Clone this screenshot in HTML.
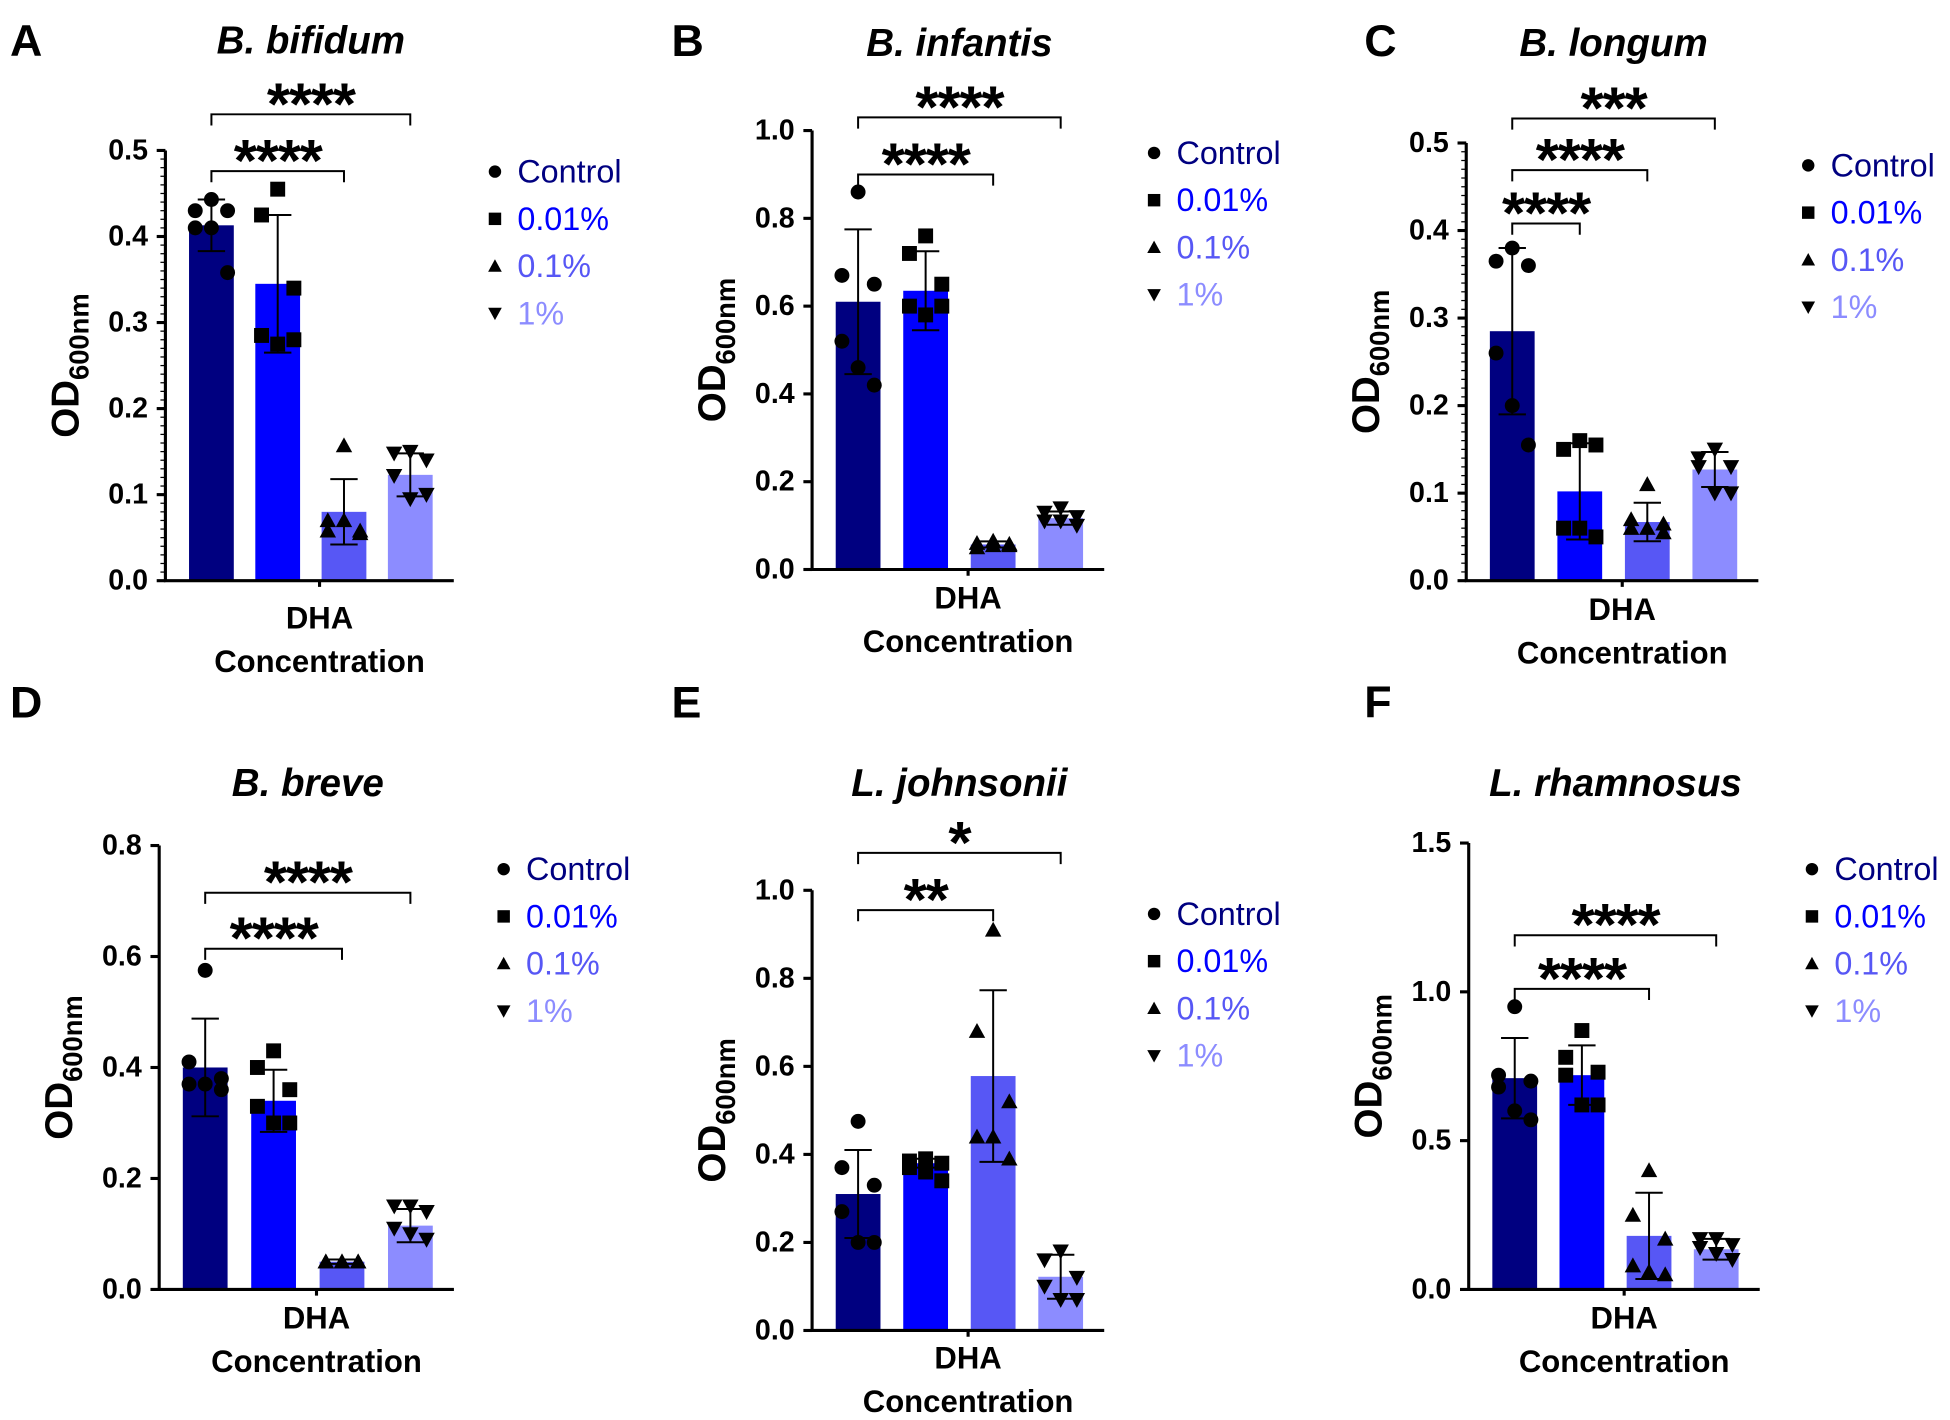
<!DOCTYPE html>
<html><head><meta charset="utf-8"><style>
html,body{margin:0;padding:0;background:#fff;}
svg{display:block;font-family:"Liberation Sans",Arial,sans-serif;}
</style></head><body>
<svg id="fig" width="1950" height="1420" viewBox="0 0 1568 1142" preserveAspectRatio="none" xmlns="http://www.w3.org/2000/svg"></svg>
<script>
const groups = ["Control","0.01%","0.1%","1%"];
const colors = ["#000080","#0000ff","#5757f5","#8c8cff"];
const titles = ["B. bifidum","B. infantis","B. longum","B. breve","L. johnsonii","L. rhamnosus"];
const letters = ["A","B","C","D","E","F"];
const meansA = [0.413,0.345,0.08,0.123];
const meansB = [0.61,0.635,0.057,0.117];
const meansC = [0.285,0.102,0.067,0.127];
const meansD = [0.4,0.34,0.05,0.115];
const meansE = [0.31,0.38,0.578,0.122];
const meansF = [0.71,0.72,0.18,0.135];
const sdA = [0.03,0.08,0.038,0.025];
const sdB = [0.165,0.09,0.007,0.015];
const sdC = [0.095,0.055,0.022,0.02];
const sdD = [0.088,0.056,0.004,0.03];
const sdE = [0.1,0.01,0.195,0.05];
const sdF = [0.135,0.1,0.145,0.035];
const ptsA = [[0.443,0.43,0.43,0.41,0.41,0.358],[0.455,0.425,0.34,0.285,0.275,0.28],[0.157,0.07,0.058,0.058,0.07,0.055],[0.15,0.148,0.14,0.122,0.095,0.1]];
const ptsB = [[0.86,0.67,0.65,0.52,0.46,0.42],[0.76,0.72,0.65,0.6,0.58,0.6],[0.065,0.06,0.055,0.05,0.055,0.058],[0.14,0.13,0.12,0.11,0.11,0.1]];
const ptsC = [[0.38,0.365,0.36,0.26,0.2,0.155],[0.16,0.15,0.155,0.06,0.06,0.05],[0.11,0.07,0.065,0.06,0.06,0.055],[0.15,0.14,0.13,0.13,0.1,0.1]];
const ptsD = [[0.575,0.41,0.38,0.37,0.37,0.36],[0.43,0.4,0.36,0.33,0.3,0.3],[0.05,0.05,0.05,0.05,0.05,0.05],[0.15,0.15,0.14,0.11,0.1,0.09]];
const ptsE = [[0.475,0.37,0.33,0.27,0.2,0.2],[0.39,0.385,0.38,0.37,0.36,0.34],[0.91,0.68,0.52,0.44,0.44,0.39],[0.18,0.16,0.12,0.1,0.07,0.07]];
const ptsF = [[0.95,0.72,0.7,0.68,0.6,0.57],[0.87,0.78,0.73,0.72,0.62,0.62],[0.4,0.25,0.17,0.08,0.06,0.05],[0.17,0.17,0.15,0.14,0.12,0.1]];
const ticksA = [0,0.1,0.2,0.3,0.4,0.5];
const ticksB = [0,0.2,0.4,0.6,0.8,1.0];
const ticksC = [0,0.1,0.2,0.3,0.4,0.5];
const ticksD = [0,0.2,0.4,0.6,0.8];
const ticksE = [0,0.2,0.4,0.6,0.8,1.0];
const ticksF = [0,0.5,1.0,1.5];
const sigA = [[2,0.476,"****"],[3,0.542,"****"]];
const sigB = [[2,0.9,"****"],[3,1.03,"****"]];
const sigC = [[1,0.408,"****"],[2,0.469,"****"],[3,0.528,"***"]];
const sigD = [[2,0.614,"****"],[3,0.715,"****"]];
const sigE = [[2,0.955,"**"],[3,1.085,"*"]];
const sigF = [[2,1.01,"****"],[3,1.19,"****"]];

const layout = [
 {ax:133,y0:467,yTop:121,c0:170,step:53.3,leg:[398,138],title:33,dha:497,minor:true},
 {ax:653,y0:458,yTop:105,c0:690,step:54.3,leg:[928,123],title:35,dha:481,minor:false},
 {ax:1179,y0:467,yTop:115,c0:1216,step:54.3,leg:[1454,133],title:35,dha:490,minor:true},
 {ax:128,y0:1037,yTop:680,c0:165,step:55,leg:[405,699],title:630,dha:1060,minor:false},
 {ax:653,y0:1070,yTop:716,c0:690,step:54.3,leg:[928,735],title:630,dha:1092,minor:false},
 {ax:1181,y0:1037,yTop:678,c0:1218,step:54,leg:[1457,699],title:630,dha:1060,minor:false}
];
const letterPos=[[8,33],[540,33],[1097,33],[8,565],[540,565],[1097,565]];
const allMeans=[meansA,meansB,meansC,meansD,meansE,meansF];
const allSd=[sdA,sdB,sdC,sdD,sdE,sdF];
const allPts=[ptsA,ptsB,ptsC,ptsD,ptsE,ptsF];
const allTicks=[ticksA,ticksB,ticksC,ticksD,ticksE,ticksF];
const allSig=[sigA,sigB,sigC,sigD,sigE,sigF];
const jit=[0,-13,13,-13,0,13];

const svg=document.getElementById('fig');
const NS="http://www.w3.org/2000/svg";
function mk(tag,attrs,parent){const e=document.createElementNS(NS,tag);for(const k in attrs)e.setAttribute(k,attrs[k]);(parent||svg).appendChild(e);return e;}
function marker(g,shape,x,y,r){
  if(shape===0) return mk('circle',{cx:x,cy:y,r:r,fill:'#000'},g);
  if(shape===1) return mk('rect',{x:x-r,y:y-r,width:2*r,height:2*r,fill:'#000'},g);
  if(shape===2) return mk('polygon',{points:`${x},${y-r*1.1} ${x-r*1.1},${y+r*0.9} ${x+r*1.1},${y+r*0.9}`,fill:'#000'},g);
  return mk('polygon',{points:`${x},${y+r*1.1} ${x-r*1.1},${y-r*0.9} ${x+r*1.1},${y-r*0.9}`,fill:'#000'},g);
}

for(let p=0;p<6;p++){
  const L=layout[p], ticks=allTicks[p], tmax=ticks[ticks.length-1];
  const yS=v=>L.y0-(v/tmax)*(L.y0-L.yTop);
  const xS=i=>L.c0+i*L.step;
  const g=mk('g',{});
  
  
  const lt=mk('text',{x:letterPos[p][0],y:letterPos[p][1],'font-size':36,'font-weight':'bold','dominant-baseline':'central'},g);
  lt.textContent=letters[p];
  
  
  const xEnd=xS(3)+35, xMid=(L.ax+xEnd)/2+8;
  const tt=mk('text',{x:(xS(0)+xS(3))/2,y:L.title,'font-size':31,'font-weight':'bold','font-style':'italic','text-anchor':'middle','dominant-baseline':'central'},g);
  tt.textContent=titles[p];
  
  
  for(let i=0;i<4;i++){
    const b=mk('rect',{x:xS(i)-18,y:yS(allMeans[p][i]),width:36,height:L.y0-yS(allMeans[p][i]),fill:colors[i]},g);
    
    
  }
  for(let i=0;i<4;i++){
    allPts[p][i].forEach((v,k)=>{
      const m=marker(g,i,xS(i)+jit[k],yS(v),6);
      
      
    });
  }
  for(let i=0;i<4;i++){
    const m=allMeans[p][i], s=allSd[p][i];
    const e=mk('path',{d:`M${xS(i)},${yS(m-s)}V${yS(m+s)}M${xS(i)-11},${yS(m+s)}H${xS(i)+11}M${xS(i)-11},${yS(m-s)}H${xS(i)+11}`,stroke:'#000','stroke-width':1.6,fill:'none'},g);
    
    
  }
  const ax=mk('path',{d:`M${L.ax},${yS(tmax)}V${L.y0}H${xEnd}M${xMid},${L.y0}v5`,stroke:'#000','stroke-width':2.5,fill:'none'},g);
  
  
  ticks.forEach(t=>{
    mk('line',{x1:L.ax-7,x2:L.ax,y1:yS(t),y2:yS(t),stroke:'#000','stroke-width':2.5},g);
    const tx=mk('text',{x:L.ax-14,y:yS(t),'font-size':23,'font-weight':'bold','text-anchor':'end','dominant-baseline':'central'},g);
    tx.textContent=t.toFixed(1);
    
    
  });
  if(L.minor){
    for(let v=0;v<=tmax+1e-9;v+=tmax/50) mk('line',{x1:L.ax-4,x2:L.ax,y1:yS(v),y2:yS(v),stroke:'#000','stroke-width':1},g);
  }
  const yl=mk('text',{transform:`translate(${L.ax-80},${(L.y0+yS(tmax))/2}) rotate(-90)`,'font-size':31,'font-weight':'bold','text-anchor':'middle','dominant-baseline':'central'},g);
  yl.innerHTML='OD<tspan font-size="22" dy="10">600nm</tspan>';
  
  
  const xl1=mk('text',{x:xMid,y:L.dha,'font-size':25,'font-weight':'bold','text-anchor':'middle','dominant-baseline':'central'},g);
  xl1.textContent='DHA';
  
  
  const xl2=mk('text',{x:xMid,y:L.dha+35,'font-size':25,'font-weight':'bold','text-anchor':'middle','dominant-baseline':'central'},g);
  xl2.textContent='Concentration';
  
  
  allSig[p].forEach(s=>{
    const y=yS(s[1]);
    const br=mk('path',{d:`M${xS(0)},${y+9}V${y}H${xS(s[0])}V${y+9}`,stroke:'#000','stroke-width':1.6,fill:'none'},g);
    
    
    const st=mk('text',{x:(xS(0)+xS(s[0]))/2,y:y+8,'font-size':48,'font-weight':'bold','text-anchor':'middle','letter-spacing':'-1'},g);
    st.textContent=s[2];
    
    
  });
  groups.forEach((gname,i)=>{
    const y=L.leg[1]+i*38;
    const m=marker(g,i,L.leg[0],y,5);
    
    
    const t=mk('text',{x:L.leg[0]+18,y:y,'font-size':26,fill:colors[i],'dominant-baseline':'central'},g);
    t.textContent=gname;
    
    
  });
}
</script>
</body></html>
